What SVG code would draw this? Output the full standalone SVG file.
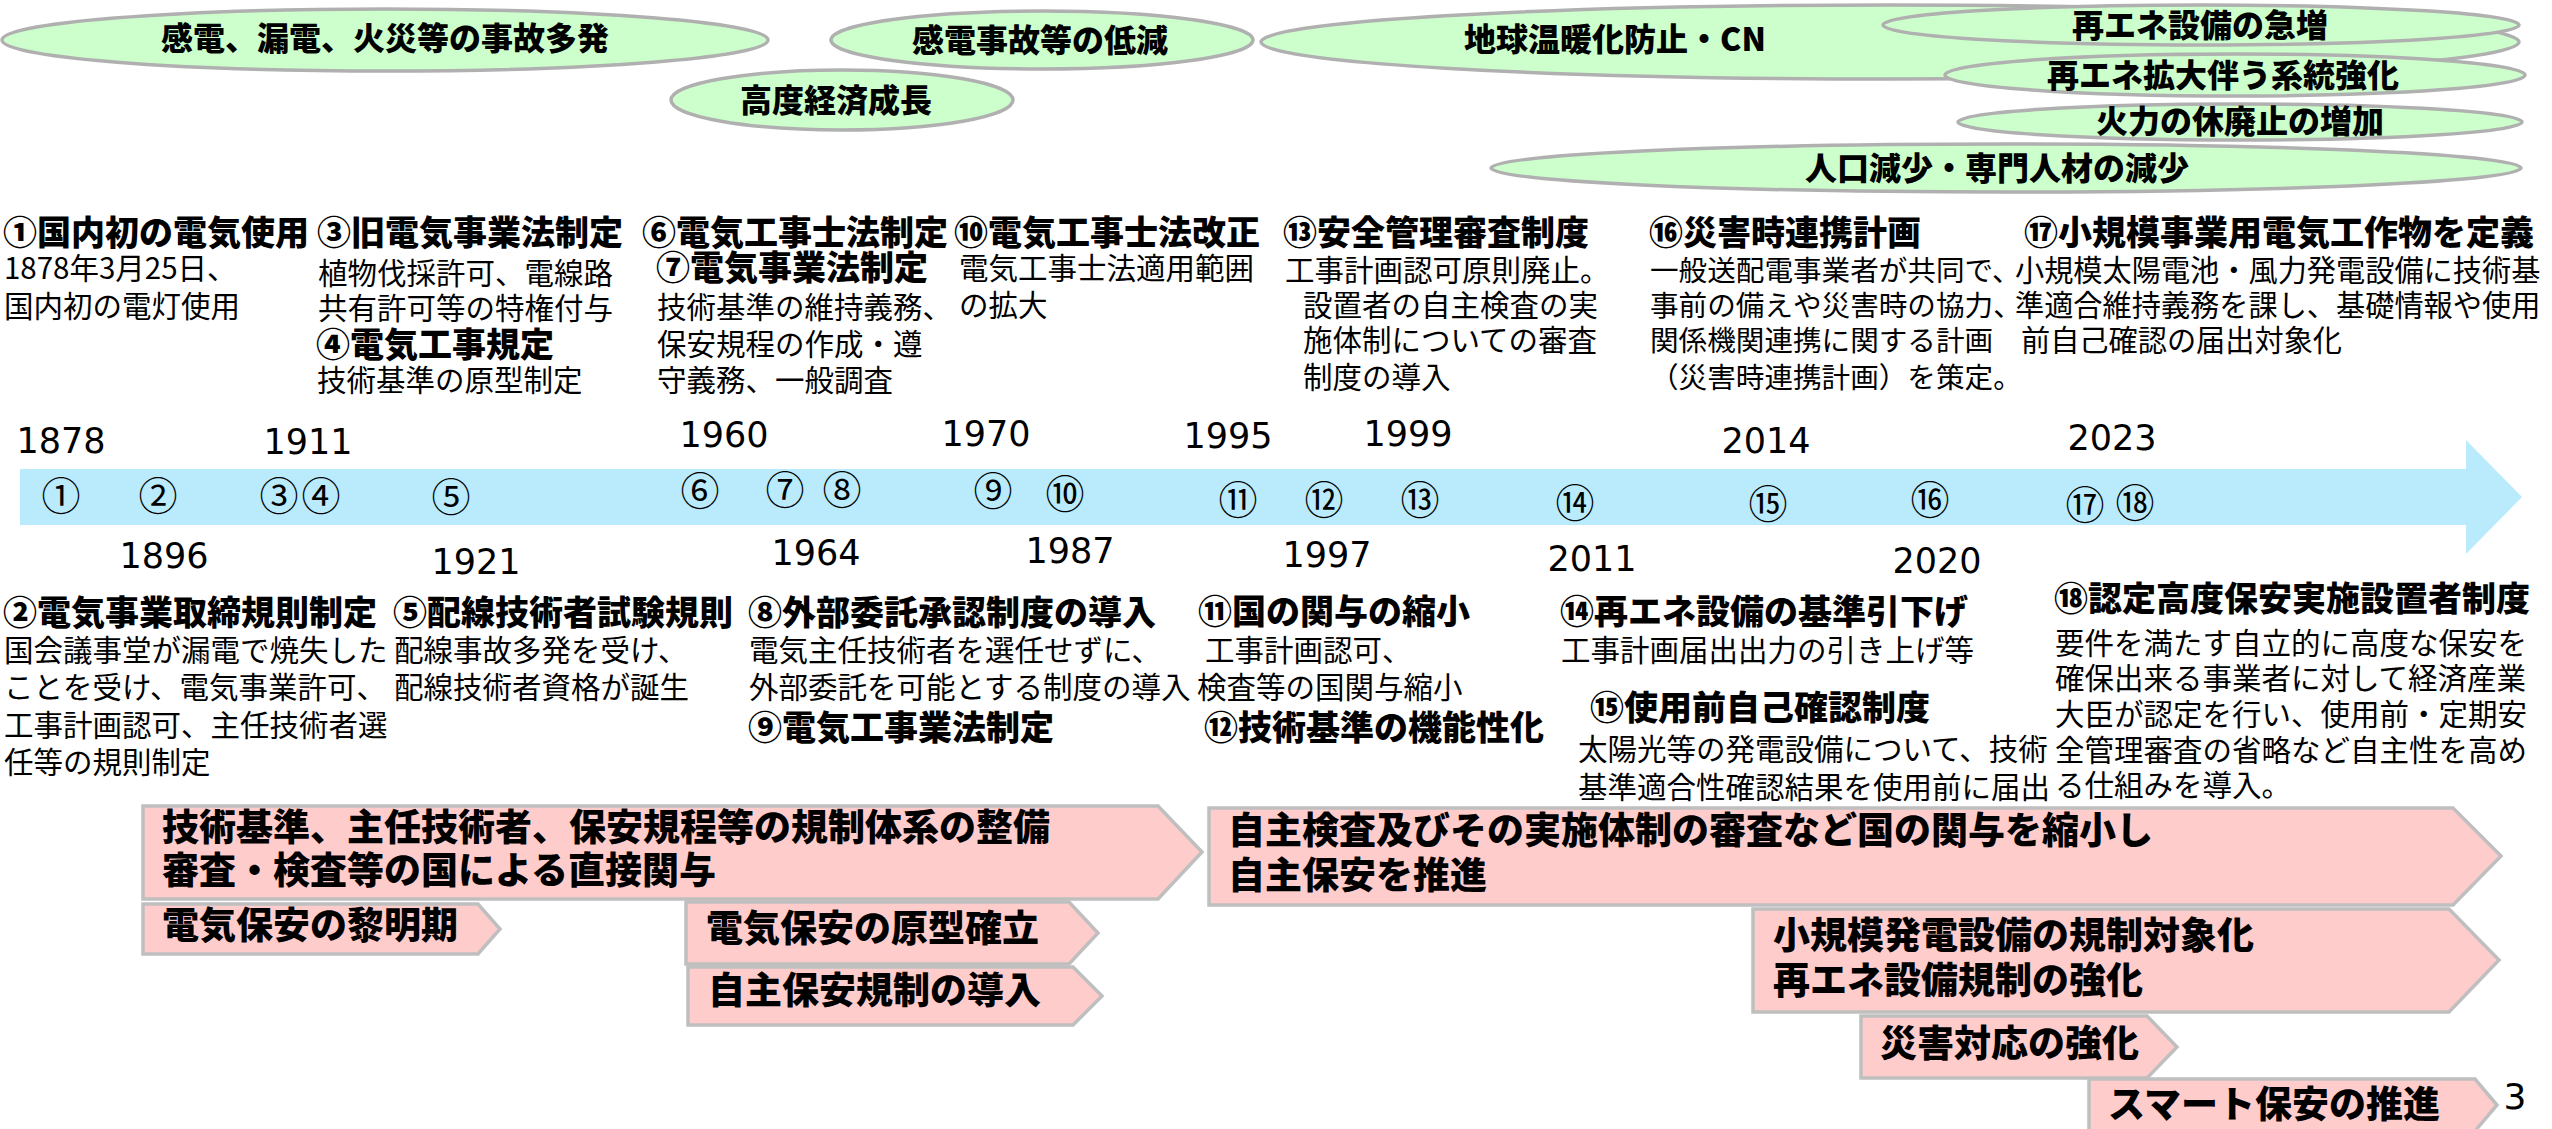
<svg xmlns="http://www.w3.org/2000/svg" width="2552" height="1129" viewBox="0 0 2552 1129">
<style>
text{font-family:"Noto Sans CJK JP","Noto Sans",sans-serif;fill:#000}
.h{font-size:34px;font-weight:900}
.b{font-size:29.5px}
.el{fill:#ccffcc;stroke:#b0b0b0;stroke-width:3.5}
.et{font-size:32px;font-weight:900;text-anchor:middle}
.ar{fill:#ffcccc;stroke:#bfbfbf;stroke-width:3.5}
.at{font-size:37px;font-weight:900}
.yr{font-family:"DejaVu Sans",sans-serif;font-size:35px;text-anchor:middle}
.cn{font-size:39px;text-anchor:middle}
.tl{fill:#b9ebfd}
</style>
<rect width="2552" height="1129" fill="#ffffff"/>

<g id="connectors">
  <polygon id="timeline-arrow" class="tl" points="20,469 2466,469 2466,440 2522,497 2466,554 2466,525 20,525"/>
</g>

<g id="context-ellipses">
  <g id="ctx-accidents"><ellipse class="el" cx="385" cy="40" rx="383" ry="31"/><text class="et" x="385" y="50">感電、漏電、火災等の事故多発</text></g>
  <g id="ctx-reduce"><ellipse class="el" cx="1042" cy="40" rx="211" ry="29"/><text class="et" x="1040" y="52">感電事故等の低減</text></g>
  <g id="ctx-growth"><ellipse class="el" cx="842" cy="100" rx="171" ry="30"/><text class="et" x="836" y="112">高度経済成長</text></g>
  <g id="ctx-cn"><ellipse class="el" cx="1890" cy="42" rx="629" ry="37"/><text class="et" x="1615" y="51">地球温暖化防止・CN</text></g>
  <g id="ctx-re-increase"><ellipse class="el" cx="2201" cy="25" rx="318" ry="20"/><text class="et" x="2200" y="37">再エネ設備の急増</text></g>
  <g id="ctx-grid"><ellipse class="el" cx="2235" cy="75" rx="290" ry="21"/><text class="et" x="2223" y="87">再エネ拡大伴う系統強化</text></g>
  <g id="ctx-thermal"><ellipse class="el" cx="2240" cy="122" rx="282" ry="18"/><text class="et" x="2240" y="133">火力の休廃止の増加</text></g>
  <g id="ctx-population"><ellipse class="el" cx="2006" cy="168" rx="515" ry="24"/><text class="et" x="1997" y="180">人口減少・専門人材の減少</text></g>
</g>

<g id="events-top">
  <g id="ev1"><text class="h" x="3" y="245">①国内初の電気使用</text>
    <text class="b" x="4" y="279">1878年3月25日、</text><text class="b" x="4" y="317">国内初の電灯使用</text></g>
  <g id="ev3"><text class="h" x="317" y="245">③旧電気事業法制定</text>
    <text class="b" x="318" y="284">植物伐採許可、電線路</text><text class="b" x="318" y="319">共有許可等の特権付与</text></g>
  <g id="ev4"><text class="h" x="316" y="357">④電気工事規定</text>
    <text class="b" x="317" y="391">技術基準の原型制定</text></g>
  <g id="ev6"><text class="h" x="642" y="245">⑥電気工事士法制定</text></g>
  <g id="ev7"><text class="h" x="656" y="280">⑦電気事業法制定</text>
    <text class="b" x="657" y="318">技術基準の維持義務、</text><text class="b" x="657" y="355">保安規程の作成・遵</text><text class="b" x="657" y="391">守義務、一般調査</text></g>
  <g id="ev10"><text class="h" x="954" y="245">⑩電気工事士法改正</text>
    <text class="b" x="959" y="279">電気工事士法適用範囲</text><text class="b" x="959" y="316">の拡大</text></g>
  <g id="ev13"><text class="h" x="1283" y="245">⑬安全管理審査制度</text>
    <text class="b" x="1285" y="281">工事計画認可原則廃止。</text><text class="b" x="1303" y="316">設置者の自主検査の実</text><text class="b" x="1303" y="351">施体制についての審査</text><text class="b" x="1303" y="388">制度の導入</text></g>
  <g id="ev16"><text class="h" x="1649" y="245">⑯災害時連携計画</text>
    <g style="font-size:28.6px"><text x="1650" y="281">一般送配電事業者が共同で、</text><text x="1650" y="316">事前の備えや災害時の協力、</text><text x="1650" y="351">関係機関連携に関する計画</text><text x="1650" y="388">（災害時連携計画）を策定。</text></g></g>
  <g id="ev17"><text class="h" x="2024" y="245">⑰小規模事業用電気工作物を定義</text>
    <g style="font-size:29.2px"><text x="2015" y="281">小規模太陽電池・風力発電設備に技術基</text><text x="2015" y="316">準適合維持義務を課し、基礎情報や使用</text><text x="2021" y="351">前自己確認の届出対象化</text></g></g>
</g>

<g id="years">
  <text class="yr" x="61" y="453">1878</text>
  <text class="yr" x="308" y="454">1911</text>
  <text class="yr" x="724" y="447">1960</text>
  <text class="yr" x="986" y="446">1970</text>
  <text class="yr" x="1228" y="448">1995</text>
  <text class="yr" x="1408" y="446">1999</text>
  <text class="yr" x="1766" y="453">2014</text>
  <text class="yr" x="2112" y="450">2023</text>
  <text class="yr" x="164" y="568">1896</text>
  <text class="yr" x="476" y="574">1921</text>
  <text class="yr" x="816" y="565">1964</text>
  <text class="yr" x="1070" y="563">1987</text>
  <text class="yr" x="1327" y="567">1997</text>
  <text class="yr" x="1592" y="571">2011</text>
  <text class="yr" x="1937" y="573">2020</text>
</g>

<g id="markers">
  <text class="cn" x="61" y="510">①</text>
  <text class="cn" x="158" y="510">②</text>
  <text class="cn" x="279" y="510">③</text>
  <text class="cn" x="321" y="510">④</text>
  <text class="cn" x="451" y="511">⑤</text>
  <text class="cn" x="700" y="505">⑥</text>
  <text class="cn" x="785" y="504">⑦</text>
  <text class="cn" x="842" y="504">⑧</text>
  <text class="cn" x="993" y="505">⑨</text>
  <text class="cn" x="1065" y="508">⑩</text>
  <text class="cn" x="1238" y="514">⑪</text>
  <text class="cn" x="1324" y="514">⑫</text>
  <text class="cn" x="1420" y="514">⑬</text>
  <text class="cn" x="1575" y="517">⑭</text>
  <text class="cn" x="1768" y="518">⑮</text>
  <text class="cn" x="1930" y="514">⑯</text>
  <text class="cn" x="2085" y="519">⑰</text>
  <text class="cn" x="2135" y="517">⑱</text>
</g>

<g id="events-bottom">
  <g id="ev2"><text class="h" x="3" y="625">②電気事業取締規則制定</text>
    <text class="b" x="4" y="661">国会議事堂が漏電で焼失した</text><text class="b" x="4" y="698">ことを受け、電気事業許可、</text><text class="b" x="4" y="736">工事計画認可、主任技術者選</text><text class="b" x="4" y="773">任等の規則制定</text></g>
  <g id="ev5"><text class="h" x="393" y="625">⑤配線技術者試験規則</text>
    <text class="b" x="394" y="661">配線事故多発を受け、</text><text class="b" x="394" y="698">配線技術者資格が誕生</text></g>
  <g id="ev8"><text class="h" x="748" y="625">⑧外部委託承認制度の導入</text>
    <text class="b" x="749" y="661">電気主任技術者を選任せずに、</text><text class="b" x="749" y="698">外部委託を可能とする制度の導入</text></g>
  <g id="ev9"><text class="h" x="748" y="740">⑨電気工事業法制定</text></g>
  <g id="ev11"><text class="h" x="1198" y="624">⑪国の関与の縮小</text>
    <text class="b" x="1205" y="661">工事計画認可、</text><text class="b" x="1197" y="698">検査等の国関与縮小</text></g>
  <g id="ev12"><text class="h" x="1204" y="740">⑫技術基準の機能性化</text></g>
  <g id="ev14"><text class="h" x="1560" y="624">⑭再エネ設備の基準引下げ</text>
    <text class="b" x="1561" y="661">工事計画届出出力の引き上げ等</text></g>
  <g id="ev15"><text class="h" x="1590" y="720">⑮使用前自己確認制度</text>
    <text class="b" x="1578" y="760">太陽光等の発電設備について、技術</text><text class="b" x="1578" y="798">基準適合性確認結果を使用前に届出</text></g>
  <g id="ev18"><text class="h" x="2054" y="611">⑱認定高度保安実施設置者制度</text>
    <text class="b" x="2055" y="654">要件を満たす自立的に高度な保安を</text><text class="b" x="2055" y="689">確保出来る事業者に対して経済産業</text><text class="b" x="2055" y="725">大臣が認定を行い、使用前・定期安</text><text class="b" x="2055" y="761">全管理審査の省略など自主性を高め</text><text class="b" x="2055" y="796">る仕組みを導入。</text></g>
</g>

<g id="phase-arrows">
  <g id="ph-direct"><polygon class="ar" points="143,806 1158,806 1202,852 1158,899 143,899"/>
    <text class="at" x="162" y="841">技術基準、主任技術者、保安規程等の規制体系の整備</text><text class="at" x="162" y="884">審査・検査等の国による直接関与</text></g>
  <g id="ph-dawn"><polygon class="ar" points="143,904 478,904 500,929 478,954 143,954"/>
    <text class="at" x="162" y="939">電気保安の黎明期</text></g>
  <g id="ph-prototype"><polygon class="ar" points="686,902 1069,902 1098,933 1069,964 686,964"/>
    <text class="at" x="706" y="942">電気保安の原型確立</text></g>
  <g id="ph-selfreg"><polygon class="ar" points="688,967 1073,967 1102,996 1073,1025 688,1025"/>
    <text class="at" x="708" y="1004">自主保安規制の導入</text></g>
  <g id="ph-selfsafety"><polygon class="ar" points="1209,808 2453,808 2501,856 2453,905 1209,905"/>
    <text class="at" x="1228" y="844">自主検査及びその実施体制の審査など国の関与を縮小し</text><text class="at" x="1228" y="889">自主保安を推進</text></g>
  <g id="ph-small"><polygon class="ar" points="1753,909 2449,909 2499,960 2449,1012 1753,1012"/>
    <text class="at" x="1773" y="949">小規模発電設備の規制対象化</text><text class="at" x="1773" y="994">再エネ設備規制の強化</text></g>
  <g id="ph-disaster"><polygon class="ar" points="1861,1016 2147,1016 2177,1047 2147,1078 1861,1078"/>
    <text class="at" x="1880" y="1057">災害対応の強化</text></g>
  <g id="ph-smart"><polygon class="ar" points="2089,1079 2475,1079 2497,1105 2475,1131 2089,1131"/>
    <text class="at" x="2108" y="1118">スマート保安の推進</text></g>
</g>

<text id="page-number" x="2515" y="1109" style="font-family:'DejaVu Sans',sans-serif;font-size:36px;text-anchor:middle">3</text>
</svg>
